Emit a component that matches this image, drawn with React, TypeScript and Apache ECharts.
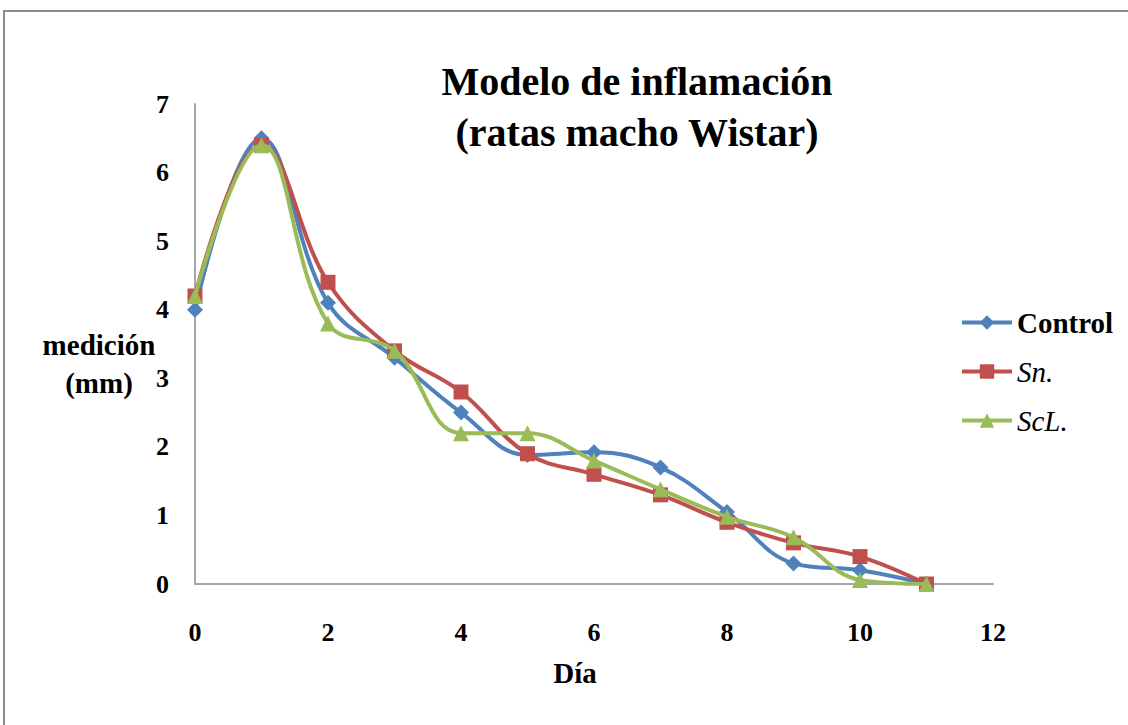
import React, { useEffect, useRef } from "react";
import * as echarts from "echarts";

const days = [0, 1, 2, 3, 4, 5, 6, 7, 8, 9, 10, 11];
const controlValues = [4.0, 6.5, 4.1, 3.3, 2.5, 1.88, 1.92, 1.7, 1.05, 0.3, 0.2, 0.0];
const snValues = [4.2, 6.4, 4.4, 3.4, 2.8, 1.9, 1.6, 1.3, 0.9, 0.6, 0.4, 0.0];
const sclValues = [4.2, 6.4, 3.8, 3.4, 2.2, 2.2, 1.8, 1.38, 0.98, 0.68, 0.06, 0.0];
const seriesNames = ["Control", "Sn.", "ScL."];
const colors = ["#4F81BD", "#C0504D", "#9BBB59"];
const symbols = ["diamond", "rect", "triangle"];

const FONT = "'Times New Roman', 'Liberation Serif', serif";

export default function App() {
  const ref = useRef<HTMLDivElement>(null);
  useEffect(() => {
    if (!ref.current) return;
    const chart = echarts.init(ref.current, undefined, { renderer: "svg" });
    const allValues = [controlValues, snValues, sclValues];
    const series = seriesNames.map((name, i) => ({
      name,
      type: "line",
      smooth: 0.4,
      data: days.map((d, j) => [d, allValues[i][j]]),
      symbol: symbols[i],
      symbolSize: i === 0 ? 16 : i === 1 ? 15 : 16,
      lineStyle: { color: colors[i], width: 4 },
      itemStyle: { color: colors[i] },
      z: 2 + i,
    }));
    chart.setOption({
      animation: false,
      backgroundColor: "#ffffff",
      textStyle: { fontFamily: FONT },
      title: {
        text: "Modelo de inflamación\n(ratas macho Wistar)",
        left: 632,
        top: 51,
        textAlign: "center",
        textStyle: {
          fontFamily: FONT,
          fontWeight: "bold",
          fontSize: 40,
          lineHeight: 51,
          color: "#000",
        },
      },
      legend: {
        orient: "vertical",
        left: 955,
        top: 303,
        itemWidth: 50,
        itemHeight: 18,
        itemGap: 20,
        data: seriesNames,
        lineStyle: { width: 4 },
        formatter: (n: string) => (n === "Control" ? "{b|" + n + "}" : "{i|" + n + "}"),
        textStyle: {
          fontFamily: FONT,
          fontSize: 29,
          color: "#000",
          rich: {
            b: { fontFamily: FONT, fontSize: 29, fontWeight: "bold", color: "#000" },
            i: { fontFamily: FONT, fontSize: 29, fontStyle: "italic", color: "#000" },
          },
        },
      },
      grid: { left: 195, right: 135, top: 104, bottom: 141, containLabel: false },
      xAxis: {
        type: "value",
        min: 0,
        max: 12,
        interval: 2,
        axisLine: { show: true, lineStyle: { color: "#A6A6A6", width: 2 } },
        axisTick: { show: false },
        splitLine: { show: false },
        axisLabel: {
          margin: 35,
          fontFamily: FONT,
          fontWeight: "bold",
          fontSize: 26,
          color: "#000",
        },
      },
      yAxis: {
        type: "value",
        min: 0,
        max: 7,
        interval: 1,
        axisLine: { show: true, lineStyle: { color: "#A6A6A6", width: 2 } },
        axisTick: { show: false },
        splitLine: { show: false },
        axisLabel: {
          margin: 26,
          fontFamily: FONT,
          fontWeight: "bold",
          fontSize: 26,
          color: "#000",
        },
      },
      graphic: [
        {
          type: "rect",
          shape: { x: 4, y: 11, width: 1200, height: 800 },
          style: { fill: "none", stroke: "#8C8C8C", lineWidth: 2 },
          silent: true,
          z: -10,
        },
        {
          type: "text",
          x: 99,
          y: 364,
          style: {
            text: "medición\n(mm)",
            fontFamily: FONT,
            fontWeight: "bold",
            fontSize: 29,
            lineHeight: 38,
            align: "center",
            verticalAlign: "middle",
            fill: "#000",
          },
        },
        {
          type: "text",
          x: 575,
          y: 673,
          style: {
            text: "Día",
            fontFamily: FONT,
            fontWeight: "bold",
            fontSize: 29,
            align: "center",
            verticalAlign: "middle",
            fill: "#000",
          },
        },
      ],
      series,
    });
    return () => chart.dispose();
  }, []);
  return (
    <div
      ref={ref}
      style={{ position: "fixed", left: 0, top: 0, width: 1128, height: 725, background: "#fff" }}
    />
  );
}
